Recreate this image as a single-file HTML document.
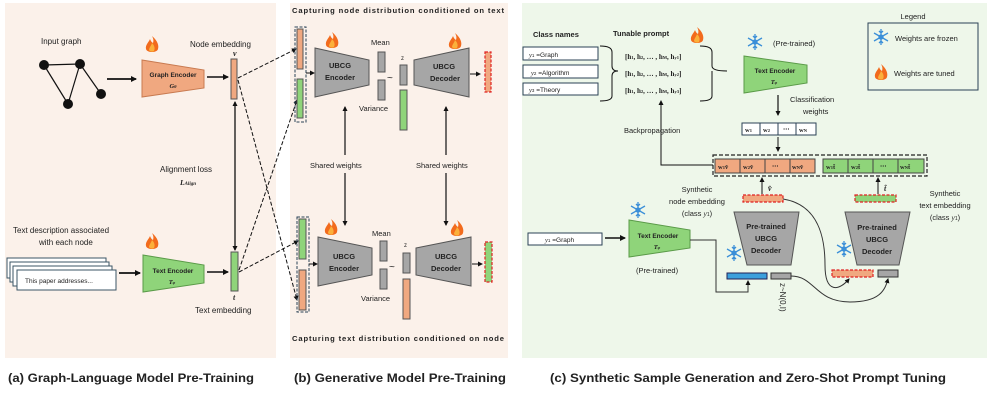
<!DOCTYPE html>
<html><head><meta charset="utf-8"><style>
html,body{margin:0;padding:0;background:#fff}
svg{display:block}
text{font-family:"Liberation Sans",sans-serif;fill:#222}
.b{font-weight:bold}
.m{font-family:"Liberation Serif",serif;font-weight:bold}
</style></head><body>
<svg width="987" height="404" viewBox="0 0 987 404" xmlns="http://www.w3.org/2000/svg">
<defs>
<marker id="ah" markerWidth="6" markerHeight="6" refX="5" refY="3" orient="auto" markerUnits="userSpaceOnUse"><path d="M0,0 L6,3 L0,6 z" fill="#111"/></marker>
<marker id="ahs" markerWidth="5" markerHeight="5" refX="4" refY="2.5" orient="auto-start-reverse" markerUnits="userSpaceOnUse"><path d="M0,0 L5,2.5 L0,5 z" fill="#111"/></marker>
<g id="fire"><path d="M0,-9 C6,-4 7,1 6,4 C5,8 -5,8 -6,4 C-7,0 -3,-3 -2,-6 C-1,-3 1,-2 1,-2 C2,-5 1,-7 0,-9z" fill="#f26b1d"/><path d="M0,-2 C3,1 3,4 2,6 C1,7 -2,7 -3,5 C-3,3 -1,1 0,-2z" fill="#fbb03b"/></g>
<g id="snow" stroke="#3b8fd8" stroke-width="1.3" fill="none"><path d="M0,-8 V8 M-7,-4 L7,4 M-7,4 L7,-4 M-2,-6 L0,-4 L2,-6 M-2,6 L0,4 L2,6"/><circle r="2" fill="#3b8fd8"/></g>
</defs>
<!-- panels -->
<rect x="5" y="3" width="271" height="355" fill="#fbf1ea"/>
<rect x="290" y="3" width="218" height="355" fill="#fbf1ea"/>
<rect x="522" y="3" width="465" height="355" fill="#eef7ea"/>

<!-- Panel A -->
<text x="41" y="44" font-size="8">Input graph</text>
<g stroke="#111" stroke-width="1.2"><line x1="44" y1="65" x2="80" y2="64"/><line x1="44" y1="65" x2="68" y2="104"/><line x1="68" y1="104" x2="80" y2="64"/><line x1="80" y1="64" x2="101" y2="94"/></g>
<g fill="#111"><circle cx="44" cy="65" r="5"/><circle cx="80" cy="64" r="5"/><circle cx="68" cy="104" r="5"/><circle cx="101" cy="94" r="5"/></g>
<line x1="107" y1="79" x2="136" y2="79" stroke="#111" stroke-width="1.8" marker-end="url(#ah)"/>
<polygon points="142,60 204,70 204,88 142,97" fill="#f0a880" stroke="#c87a50"/>
<text x="173" y="77" font-size="6.5" class="b" text-anchor="middle">Graph Encoder</text>
<text x="173" y="88" font-size="6.5" class="m" font-style="italic" text-anchor="middle">G<tspan font-size="4.5">θ</tspan></text>
<use href="#fire" x="152" y="45"/>
<text x="190" y="47" font-size="8">Node embedding</text>
<text x="233" y="56" font-size="8" font-style="italic" class="m">v</text>
<line x1="207" y1="77" x2="228" y2="77" stroke="#111" stroke-width="1.5" marker-end="url(#ah)"/>
<rect x="231" y="59" width="6" height="40" fill="#f0a880" stroke="#555"/>
<line x1="235" y1="102" x2="235" y2="250" stroke="#111" stroke-width="1.3" marker-start="url(#ahs)" marker-end="url(#ahs)"/>
<text x="160" y="172" font-size="8">Alignment loss</text>
<text x="180" y="185" font-size="7.5" font-style="italic" class="m" font-weight="normal">L<tspan font-size="5">Align</tspan></text>
<text x="13" y="233" font-size="8">Text description associated</text>
<text x="39" y="245" font-size="8">with each node</text>
<g fill="#fff" stroke="#3b5566" stroke-width="1"><rect x="7" y="258" width="99" height="20"/><rect x="10" y="262" width="99" height="20"/><rect x="13" y="266" width="99" height="20"/><rect x="17" y="270" width="99" height="20"/></g>
<text x="25" y="283" font-size="6.5">This paper addresses...</text>
<line x1="119" y1="273" x2="140" y2="273" stroke="#111" stroke-width="1.8" marker-end="url(#ah)"/>
<polygon points="143,255 204,265 204,283 143,292" fill="#8fd47a" stroke="#5a9a48"/>
<text x="173" y="273" font-size="6.5" class="b" text-anchor="middle">Text Encoder</text>
<text x="172" y="284" font-size="6.5" class="m" font-style="italic" text-anchor="middle">T<tspan font-size="4.5">φ</tspan></text>
<use href="#fire" x="152" y="242"/>
<line x1="207" y1="272" x2="228" y2="272" stroke="#111" stroke-width="1.5" marker-end="url(#ah)"/>
<rect x="231" y="252" width="7" height="39" fill="#8fd47a" stroke="#555"/>
<text x="233" y="300" font-size="8" font-style="italic" class="m">t</text>
<text x="195" y="313" font-size="8">Text embedding</text>
<g stroke="#111" stroke-width="1" stroke-dasharray="4,2" fill="none">
<line x1="238" y1="78" x2="296" y2="49" marker-end="url(#ahs)"/>
<line x1="238" y1="80" x2="297" y2="300" marker-end="url(#ahs)"/>
<line x1="239" y1="270" x2="297" y2="100" marker-end="url(#ahs)"/>
<line x1="239" y1="272" x2="298" y2="241" marker-end="url(#ahs)"/>
</g>

<!-- Panel B -->
<text x="292" y="13" font-size="7.6" class="b" textLength="212">Capturing node distribution conditioned on text</text>
<rect x="295" y="27" width="11" height="95" fill="none" stroke="#2b4255" stroke-dasharray="3,1.5"/>
<rect x="297" y="29" width="6" height="40" fill="#f0a880" stroke="#555"/>
<rect x="297" y="79" width="6" height="39" fill="#8fd47a" stroke="#555"/>
<line x1="306" y1="73" x2="314" y2="73" stroke="#111" marker-end="url(#ahs)"/>
<polygon points="315,48 369,60 369,85 315,97" fill="#a6a6a6" stroke="#555"/>
<text x="340" y="68" font-size="7.5" class="b" text-anchor="middle">UBCG</text>
<text x="340" y="80" font-size="7.5" class="b" text-anchor="middle">Encoder</text>
<use href="#fire" x="332" y="41"/>
<text x="371" y="45" font-size="7.5">Mean</text>
<rect x="378" y="52" width="7" height="20" fill="#a6a6a6" stroke="#555"/>
<rect x="378" y="80" width="7" height="20" fill="#a6a6a6" stroke="#555"/>
<text x="359" y="111" font-size="7.5">Variance</text>
<text x="387" y="81" font-size="10">~</text>
<text x="401" y="60" font-size="6">z</text>
<rect x="400" y="65" width="7" height="20" fill="#a6a6a6" stroke="#555"/>
<rect x="400" y="90" width="7" height="40" fill="#8fd47a" stroke="#555"/>
<polygon points="414,60 469,48 469,97 414,85" fill="#a6a6a6" stroke="#555"/>
<text x="444" y="69" font-size="7.5" class="b" text-anchor="middle">UBCG</text>
<text x="445" y="81" font-size="7.5" class="b" text-anchor="middle">Decoder</text>
<use href="#fire" x="455" y="42"/>
<line x1="470" y1="74" x2="480" y2="74" stroke="#111" marker-end="url(#ahs)"/>
<rect x="485" y="52" width="6" height="40" fill="#f0a880" stroke="#e02020" stroke-dasharray="3,1.5" stroke-width="1.2"/>
<line x1="345" y1="107" x2="345" y2="155" stroke="#111" stroke-width="1.2" marker-start="url(#ahs)"/>
<line x1="345" y1="173" x2="345" y2="225" stroke="#111" stroke-width="1.2" marker-end="url(#ahs)"/>
<line x1="446" y1="107" x2="446" y2="155" stroke="#111" stroke-width="1.2" marker-start="url(#ahs)"/>
<line x1="446" y1="173" x2="446" y2="225" stroke="#111" stroke-width="1.2" marker-end="url(#ahs)"/>
<text x="310" y="168" font-size="7.5">Shared weights</text>
<text x="416" y="168" font-size="7.5">Shared weights</text>
<rect x="297" y="217" width="12" height="95" fill="none" stroke="#2b4255" stroke-dasharray="3,1.5"/>
<rect x="299" y="219" width="7" height="40" fill="#8fd47a" stroke="#555"/>
<rect x="299" y="270" width="7" height="40" fill="#f0a880" stroke="#555"/>
<line x1="309" y1="264" x2="317" y2="264" stroke="#111" marker-end="url(#ahs)"/>
<polygon points="318,237 372,248 372,275 318,286" fill="#a6a6a6" stroke="#555"/>
<text x="344" y="259" font-size="7.5" class="b" text-anchor="middle">UBCG</text>
<text x="344" y="271" font-size="7.5" class="b" text-anchor="middle">Encoder</text>
<use href="#fire" x="331" y="228"/>
<text x="372" y="236" font-size="7.5">Mean</text>
<rect x="380" y="241" width="7" height="20" fill="#a6a6a6" stroke="#555"/>
<rect x="380" y="269" width="7" height="20" fill="#a6a6a6" stroke="#555"/>
<text x="361" y="301" font-size="7.5">Variance</text>
<text x="389" y="270" font-size="10">~</text>
<text x="404" y="247" font-size="6">z</text>
<rect x="403" y="253" width="7" height="20" fill="#a6a6a6" stroke="#555"/>
<rect x="403" y="279" width="7" height="40" fill="#f0a880" stroke="#555"/>
<polygon points="416,248 471,237 471,286 416,275" fill="#a6a6a6" stroke="#555"/>
<text x="446" y="259" font-size="7.5" class="b" text-anchor="middle">UBCG</text>
<text x="446" y="271" font-size="7.5" class="b" text-anchor="middle">Decoder</text>
<use href="#fire" x="457" y="229"/>
<line x1="472" y1="264" x2="482" y2="264" stroke="#111" marker-end="url(#ahs)"/>
<rect x="485" y="242" width="7" height="40" fill="#8fd47a" stroke="#e02020" stroke-dasharray="3,1.5" stroke-width="1.2"/>
<text x="292" y="341" font-size="7.6" class="b" textLength="212">Capturing text distribution conditioned on node</text>

<!-- Panel C -->
<text x="533" y="37" font-size="7.5" class="b">Class names</text>
<g fill="#fff" stroke="#2b4255" stroke-width="1"><rect x="523" y="47" width="75" height="13"/><rect x="523" y="65" width="75" height="13"/><rect x="523" y="83" width="75" height="12"/></g>
<text x="529" y="57" font-size="6.5"><tspan font-style="italic" font-family="Liberation Serif">y</tspan><tspan font-size="4.5">1</tspan> =Graph</text>
<text x="531" y="75" font-size="6.5"><tspan font-style="italic" font-family="Liberation Serif">y</tspan><tspan font-size="4.5">2</tspan> =Algorithm</text>
<text x="529" y="92" font-size="6.5"><tspan font-style="italic" font-family="Liberation Serif">y</tspan><tspan font-size="4.5">3</tspan> =Theory</text>
<path d="M600,46 Q612,46 612,52 L612,66 Q612,71 618,71 Q612,71 612,76 L612,96 Q612,101 600,101" fill="none" stroke="#111"/>
<text x="613" y="36" font-size="7.5" class="b">Tunable prompt</text>
<use href="#fire" x="697" y="36"/>
<text x="625" y="59" font-size="7" class="m">[h<tspan font-size="4.5">1</tspan>, h<tspan font-size="4.5">2</tspan>, … , h<tspan font-size="4.5">M</tspan>, h<tspan font-size="4.5">y1</tspan>]</text>
<text x="625" y="76" font-size="7" class="m">[h<tspan font-size="4.5">1</tspan>, h<tspan font-size="4.5">2</tspan>, … , h<tspan font-size="4.5">M</tspan>, h<tspan font-size="4.5">y2</tspan>]</text>
<text x="625" y="93" font-size="7" class="m">[h<tspan font-size="4.5">1</tspan>, h<tspan font-size="4.5">2</tspan>, … , h<tspan font-size="4.5">M</tspan>, h<tspan font-size="4.5">y3</tspan>]</text>
<path d="M700,46 Q712,46 712,52 L712,66 Q712,71 727,71 M712,71 Q712,71 712,76 L712,96 Q712,101 700,101" fill="none" stroke="#111"/>
<use href="#snow" x="755" y="42"/>
<text x="773" y="46" font-size="7.5">(Pre-trained)</text>
<polygon points="744,56 807,65 807,83 744,93" fill="#8fd47a" stroke="#5a9a48"/>
<text x="775" y="73" font-size="6.5" class="b" text-anchor="middle">Text Encoder</text>
<text x="774" y="84" font-size="6.5" class="m" font-style="italic" text-anchor="middle">T<tspan font-size="4.5">φ</tspan></text>
<line x1="778" y1="95" x2="778" y2="115" stroke="#111" stroke-width="1.2" marker-end="url(#ahs)"/>
<text x="790" y="102" font-size="7.5">Classification</text>
<text x="803" y="114" font-size="7.5">weights</text>
<g fill="#fff" stroke="#2b4255"><rect x="742" y="123" width="18" height="12"/><rect x="760" y="123" width="18" height="12"/><rect x="778" y="123" width="18" height="12"/><rect x="796" y="123" width="20" height="12"/></g>
<g font-size="6.5" class="m"><text x="745" y="132" class="m">w<tspan font-size="4.5">1</tspan></text><text x="763" y="132" class="m">w<tspan font-size="4.5">2</tspan></text><text x="783" y="131" class="m">⋯</text><text x="799" y="132" class="m">w<tspan font-size="4.5">N</tspan></text></g>
<line x1="778" y1="137" x2="778" y2="151" stroke="#111" marker-end="url(#ahs)"/>
<rect x="713" y="155" width="214" height="21" fill="none" stroke="#222" stroke-dasharray="4,2" stroke-width="1.2"/>
<g stroke="#444"><rect x="715" y="159" width="25" height="14" fill="#f0a880"/><rect x="740" y="159" width="25" height="14" fill="#f0a880"/><rect x="765" y="159" width="25" height="14" fill="#f0a880"/><rect x="790" y="159" width="25" height="14" fill="#f0a880"/>
<rect x="823" y="159" width="25" height="14" fill="#8fd47a"/><rect x="848" y="159" width="25" height="14" fill="#8fd47a"/><rect x="873" y="159" width="25" height="14" fill="#8fd47a"/><rect x="898" y="159" width="26" height="14" fill="#8fd47a"/></g>
<g font-size="6.5"><text x="718" y="169" class="m">w<tspan font-size="4.5">1</tspan>v̂</text><text x="743" y="169" class="m">w<tspan font-size="4.5">2</tspan>v̂</text><text x="772" y="168" class="m">⋯</text><text x="792" y="169" class="m">w<tspan font-size="4.5">N</tspan>v̂</text>
<text x="826" y="169" class="m">w<tspan font-size="4.5">1</tspan>t̂</text><text x="851" y="169" class="m">w<tspan font-size="4.5">2</tspan>t̂</text><text x="880" y="168" class="m">⋯</text><text x="900" y="169" class="m">w<tspan font-size="4.5">N</tspan>t̂</text></g>
<polyline points="713,165 661,165 661,101" fill="none" stroke="#111" marker-end="url(#ahs)"/>
<text x="624" y="133" font-size="7.5">Backpropagation</text>
<line x1="762" y1="194" x2="762" y2="178" stroke="#111" marker-end="url(#ahs)"/>
<text x="768" y="191" font-size="8" class="m" font-style="italic">v̂</text>
<rect x="743" y="195" width="40" height="7" fill="#f0a880" stroke="#e02020" stroke-dasharray="3,1.5" stroke-width="1.2"/>
<line x1="878" y1="194" x2="878" y2="178" stroke="#111" marker-end="url(#ahs)"/>
<text x="884" y="191" font-size="8" class="m" font-style="italic">t̂</text>
<rect x="855" y="195" width="41" height="7" fill="#8fd47a" stroke="#e02020" stroke-dasharray="3,1.5" stroke-width="1.2"/>
<g font-size="7.5" text-anchor="middle"><text x="697" y="192">Synthetic</text><text x="697" y="204">node embedding</text><text x="697" y="216">(class <tspan font-style="italic" font-family="Liberation Serif">y</tspan><tspan font-size="5">1</tspan>)</text>
<text x="945" y="196">Synthetic</text><text x="945" y="208">text embedding</text><text x="945" y="220">(class <tspan font-style="italic" font-family="Liberation Serif">y</tspan><tspan font-size="5">1</tspan>)</text></g>
<use href="#snow" x="638" y="210"/>
<rect x="528" y="233" width="74" height="12" fill="#fff" stroke="#2b4255"/>
<text x="545" y="242" font-size="6.5"><tspan font-style="italic" font-family="Liberation Serif">y</tspan><tspan font-size="4.5">1</tspan> =Graph</text>
<line x1="605" y1="238" x2="625" y2="238" stroke="#111" stroke-width="1.5" marker-end="url(#ah)"/>
<polygon points="629,220 690,230 690,248 629,257" fill="#8fd47a" stroke="#5a9a48"/>
<text x="658" y="238" font-size="6.5" class="b" text-anchor="middle">Text Encoder</text>
<text x="657" y="249" font-size="6.5" class="m" font-style="italic" text-anchor="middle">T<tspan font-size="4.5">φ</tspan></text>
<text x="636" y="273" font-size="7.5">(Pre-trained)</text>
<polygon points="734,212 799,212 791,265 747,265" fill="#a6a6a6" stroke="#555"/>
<g font-size="7.5" class="b" text-anchor="middle"><text x="766" y="229" class="b">Pre-trained</text><text x="766" y="241" class="b">UBCG</text><text x="766" y="253" class="b">Decoder</text></g>
<use href="#snow" x="734" y="253"/>
<rect x="727" y="273" width="40" height="6" fill="#3ca0dc" stroke="#225"/>
<rect x="771" y="273" width="20" height="6" fill="#a6a6a6" stroke="#333"/>
<text transform="translate(780,283) rotate(90)" font-size="8" font-family="Liberation Serif">z~N(0,I)</text>
<polyline points="690,240 716,240 716,292 748,292 748,281" fill="none" stroke="#333" marker-end="url(#ahs)"/>
<polygon points="845,212 910,212 899,265 857,265" fill="#a6a6a6" stroke="#555"/>
<g font-size="7.5" class="b" text-anchor="middle"><text x="877" y="230" class="b">Pre-trained</text><text x="877" y="242" class="b">UBCG</text><text x="877" y="254" class="b">Decoder</text></g>
<use href="#snow" x="844" y="249"/>
<rect x="832" y="270" width="41" height="7" fill="#f0a880" stroke="#e02020" stroke-dasharray="3,1.5" stroke-width="1.2"/>
<rect x="878" y="270" width="20" height="7" fill="#a6a6a6" stroke="#333"/>
<path d="M783,199 C820,205 825,240 825,265 C825,295 840,290 849,279" fill="none" stroke="#333" marker-end="url(#ahs)"/>
<path d="M791,276 C815,276 815,302 850,302 C880,302 885,290 888,279" fill="none" stroke="#333" marker-end="url(#ahs)"/>
<text x="913" y="19" font-size="7.5" text-anchor="middle">Legend</text>
<rect x="868" y="23" width="110" height="67" fill="none" stroke="#2b4255" stroke-width="1"/>
<use href="#snow" x="881" y="37"/>
<text x="895" y="41" font-size="7.5">Weights are frozen</text>
<use href="#fire" x="881" y="73"/>
<text x="894" y="76" font-size="7.5">Weights are  tuned</text>

<!-- captions -->
<text x="8" y="382" font-size="11.5" class="b" textLength="246" lengthAdjust="spacingAndGlyphs">(a) Graph-Language Model Pre-Training</text>
<text x="294" y="382" font-size="11.5" class="b" textLength="212" lengthAdjust="spacingAndGlyphs">(b) Generative Model Pre-Training</text>
<text x="550" y="382" font-size="11.5" class="b" textLength="396" lengthAdjust="spacingAndGlyphs">(c) Synthetic Sample Generation and Zero-Shot Prompt Tuning</text>
</svg>
</body></html>
